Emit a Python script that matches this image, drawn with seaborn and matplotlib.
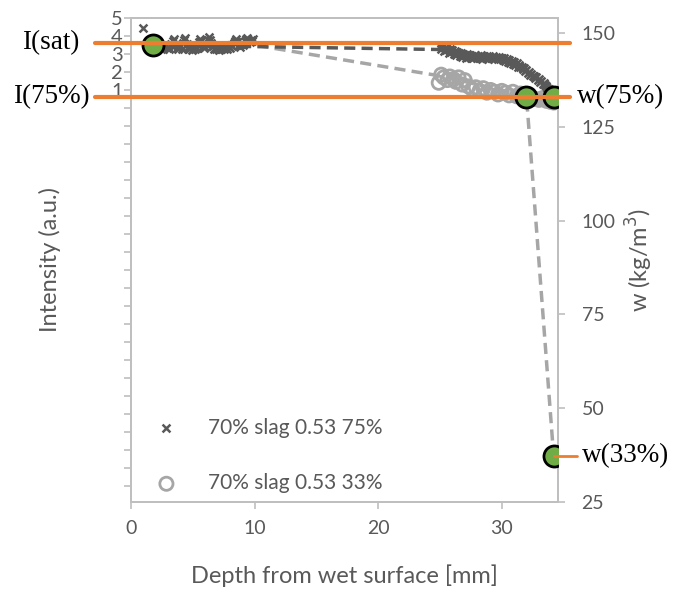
import matplotlib
matplotlib.use("Agg")
import matplotlib.pyplot as plt
import matplotlib.transforms as mtransforms
from matplotlib.ticker import FixedLocator, FuncFormatter
import seaborn as sns
import pandas as pd

sns.set_theme(style="white")
plt.rcParams["font.family"] = ["Lato", "DejaVu Sans"]

GRAY_TXT = "#595959"
DARK = "#595959"
LIGHT = "#a6a6a6"
ORANGE = "#ED7D31"
GREEN = "#70AD47"
SPINE = "#bfbfbf"

# --- measured intensity, 75% RH sample (left axis) ---
depth_75 = [1.0,
            2.0, 2.1, 2.2, 2.3, 2.4, 2.5, 2.6, 2.7, 2.8, 2.9,
            3.0, 3.1, 3.2, 3.3, 3.4, 3.5, 3.6, 3.7, 3.8, 3.9,
            4.0, 4.1, 4.2, 4.3, 4.4, 4.5, 4.6, 4.7, 4.8, 4.9,
            5.0, 5.1, 5.2, 5.3, 5.4, 5.5, 5.6, 5.7, 5.8, 5.9,
            6.0, 6.1, 6.2, 6.3, 6.4, 6.5, 6.6, 6.7, 6.8, 6.9,
            7.0, 7.1, 7.2, 7.3, 7.4, 7.5, 7.6, 7.7, 7.8, 7.9,
            8.0, 8.1, 8.2, 8.3, 8.4, 8.5, 8.6, 8.7, 8.8, 8.9,
            9.0, 9.1, 9.2, 9.3, 9.4, 9.5, 9.6, 9.7, 9.8, 9.9,
            25.0, 25.1, 25.2, 25.3, 25.4, 25.5, 25.6, 25.7, 25.8, 25.9,
            26.0, 26.1, 26.2, 26.3, 26.4, 26.5, 26.6, 26.7, 26.8, 26.9,
            27.0, 27.1, 27.2, 27.3, 27.4, 27.5, 27.6, 27.7, 27.8, 27.9,
            28.0, 28.1, 28.2, 28.3, 28.4, 28.5, 28.6, 28.7, 28.8, 28.9,
            29.0, 29.1, 29.2, 29.3, 29.4, 29.5, 29.6, 29.7, 29.8, 29.9,
            30.0, 30.1, 30.2, 30.3, 30.4, 30.5, 30.6, 30.7, 30.8, 30.9,
            31.0, 31.1, 31.2, 31.3, 31.4, 31.5, 31.6, 31.7, 31.8, 31.9,
            32.0, 32.1, 32.2, 32.3, 32.4, 32.5, 32.6, 32.7, 32.8, 32.9,
            33.0, 33.1, 33.2, 33.3, 33.4, 33.5, 33.6, 33.7, 33.8, 33.9,
            34.0, 34.1, 34.2]
intensity_75 = [4.45,
                3.55, 3.45, 3.35, 3.50, 3.30, 3.40, 3.25, 3.45, 3.50, 3.35,
                3.40, 3.30, 3.55, 3.45, 3.70, 3.85, 3.50, 3.35, 3.25, 3.40,
                3.45, 3.30, 3.60, 3.75, 3.90, 3.55, 3.40, 3.30, 3.35, 3.20,
                3.30, 3.45, 3.25, 3.35, 3.50, 3.65, 3.85, 3.70, 3.45, 3.35,
                3.40, 3.55, 3.75, 3.95, 3.80, 3.60, 3.45, 3.30, 3.35, 3.25,
                3.30, 3.20, 3.35, 3.25, 3.40, 3.30, 3.45, 3.35, 3.30, 3.40,
                3.35, 3.50, 3.45, 3.60, 3.70, 3.85, 3.65, 3.50, 3.40, 3.55,
                3.60, 3.50, 3.70, 3.85, 3.90, 3.75, 3.65, 3.80, 3.70, 3.85,
                3.45, 3.25, 3.40, 3.15, 3.35, 3.20, 3.30, 3.05, 3.25, 3.10,
                3.20, 3.00, 3.15, 2.95, 3.10, 3.05, 2.90, 3.05, 2.85, 3.00,
                2.95, 2.80, 3.00, 2.85, 2.95, 2.75, 2.90, 2.80, 2.95, 2.85,
                2.75, 2.90, 2.80, 2.95, 2.70, 2.85, 2.90, 2.75, 2.85, 2.70,
                2.90, 2.80, 2.75, 2.90, 2.70, 2.85, 2.80, 2.70, 2.85, 2.75,
                2.80, 2.65, 2.75, 2.60, 2.70, 2.55, 2.65, 2.50, 2.60, 2.45,
                2.55, 2.40, 2.50, 2.30, 2.40, 2.25, 2.30, 2.15, 2.20, 2.05,
                2.10, 1.95, 2.00, 1.85, 1.90, 1.75, 1.80, 1.65, 1.70, 1.55,
                1.60, 1.45, 1.50, 1.35, 1.40, 1.25, 1.20, 1.10, 1.05, 0.95,
                0.95, 0.85, 0.80]

# --- measured intensity, 33% RH sample (left axis) ---
depth_33 = [24.9, 25.1, 25.3, 25.6, 25.8, 26.1, 26.3, 26.5, 26.8, 27.0,
            27.3, 27.6, 27.9, 28.2, 28.5, 28.8, 29.1, 29.4, 29.7, 30.0,
            30.3, 30.6, 30.9, 31.2, 31.5, 31.8, 32.1, 32.4, 32.7, 33.0,
            33.3, 33.6, 33.9, 34.2]
intensity_33 = [1.40, 1.85, 1.70, 1.55, 1.75, 1.60, 1.45, 1.70, 1.30, 1.55,
                1.20, 1.05, 1.15, 0.95, 1.10, 0.85, 1.00, 0.90, 0.75, 0.95,
                0.85, 0.70, 0.90, 0.65, 0.80, 0.60, 0.70, 0.55, 0.50, 0.45,
                0.55, 0.40, 0.35, 0.30]

# --- moisture profiles (right axis) ---
profile_75_depth = [1.8, 25.0, 29.0, 31.0, 33.0, 34.2]
profile_75_w = [146.8, 145.6, 143.4, 142.3, 137.5, 133.0]
profile_33_depth = [1.8, 10.5, 25.5, 32.0, 34.2]
profile_33_w = [146.8, 146.5, 138.3, 133.0, 37.2]

# --- reference points (right axis) ---
ref_depth = [1.8, 32.0, 34.2, 34.2]
ref_w = [146.8, 133.0, 133.0, 37.2]

# --- calibration levels ---
i_sat = 3.6
i_75 = 0.6
w_33 = 37.2

legend_75 = "70% slag 0.53 75%"
legend_33 = "70% slag 0.53 33%"

df75 = pd.DataFrame({"depth": depth_75, "I": intensity_75})
df33 = pd.DataFrame({"depth": depth_33, "I": intensity_33})
p75 = pd.DataFrame({"depth": profile_75_depth, "w": profile_75_w})
p33 = pd.DataFrame({"depth": profile_33_depth, "w": profile_33_w})
refs = pd.DataFrame({"depth": ref_depth, "w": ref_w})

fig = plt.figure(figsize=(6.79, 5.92), dpi=100)
ax = fig.add_axes([131 / 679, 1 - 502 / 592, (558 - 131) / 679, (502 - 18) / 592])
ax2 = ax.twinx()
# intensity axis drawn over the moisture axis
ax.set_zorder(ax2.get_zorder() + 1)
ax.patch.set_visible(False)

ax.set_xlim(0, 34.55)
ax.set_ylim(-21.9, 5)
ax2.set_ylim(25, 154)

# moisture profiles (behind the measurements)
sns.lineplot(data=p33, x="depth", y="w", ax=ax2, color=LIGHT, linewidth=2.5,
             sort=False, zorder=2)
sns.lineplot(data=p75, x="depth", y="w", ax=ax2, color=DARK, linewidth=2.5,
             sort=False, zorder=2)
for ln in ax2.get_lines():
    ln.set_dashes([3.2, 1.8])

# intensity scatter
sns.scatterplot(data=df33, x="depth", y="I", ax=ax, marker="o", s=90,
                facecolor="none", edgecolor=LIGHT, linewidth=2.0,
                label=legend_33, zorder=2)
sns.scatterplot(data=df75, x="depth", y="I", ax=ax, marker="x", s=32,
                color=DARK, linewidth=1.8, label=legend_75, zorder=3)

# reference points, placed in moisture units
sns.scatterplot(data=refs, x="depth", y="w", ax=ax, s=230, color=GREEN,
                edgecolor="black", linewidth=2.0, zorder=5, legend=False,
                transform=ax2.transData)

ax.set_xlim(0, 34.55)
ax.set_ylim(-21.9, 5)
ax2.set_ylim(25, 154)

# calibration lines reaching past the frame
trans_i = mtransforms.blended_transform_factory(ax.transAxes, ax.transData)
for lvl in (i_sat, i_75):
    ax.plot([-0.084, 1.028], [lvl, lvl], color=ORANGE, linewidth=3.0,
            transform=trans_i, clip_on=False, zorder=6)
trans_w = mtransforms.blended_transform_factory(ax.transAxes, ax2.transData)
x_end = 34.2 / 34.55
ax.plot([x_end, 1.045], [w_33, w_33], color=ORANGE, linewidth=2.0,
        transform=trans_w, clip_on=False, zorder=7)

serif = dict(family=["Liberation Serif", "DejaVu Serif"], fontsize=19.5, color="black")
fig.text(22 / 679, 1 - 43 / 592, "I(sat)", ha="left", va="center", **serif)
fig.text(13 / 679, 1 - 97 / 592, "I(75%)", ha="left", va="center", **serif)
fig.text(577 / 679, 1 - 97 / 592, "w(75%)", ha="left", va="center", **serif)
fig.text(582 / 679, 1 - 456 / 592, "w(33%)", ha="left", va="center", **serif)

# ticks
ax.set_xticks([0, 10, 20, 30])
ax.yaxis.set_major_locator(FixedLocator(list(range(-21, 6))))
ax.yaxis.set_major_formatter(FuncFormatter(lambda v, p: f"{int(v)}" if v >= 1 else ""))
ax2.set_yticks([25, 50, 75, 100, 125, 150])

for a in (ax, ax2):
    for sp in a.spines.values():
        sp.set_color(SPINE)
        sp.set_linewidth(1.3)
    a.tick_params(colors=SPINE, labelcolor=GRAY_TXT, labelsize=14,
                  length=5, width=1.2, direction="out")
ax.tick_params(axis="y", left=True, right=False, pad=1, labelsize=14.5)
ax.tick_params(axis="x", bottom=True, pad=8)
ax2.tick_params(axis="y", right=True, left=False, pad=12)

ax.set_xlabel("Depth from wet surface [mm]", fontsize=17, color=GRAY_TXT, labelpad=20)
ax.set_ylabel("Intensity (a.u.)", fontsize=17, color=GRAY_TXT, labelpad=36)
ax2.set_ylabel("w (kg/m$^3$)", fontsize=17, color=GRAY_TXT, labelpad=6)

handles, labels = ax.get_legend_handles_labels()
order = [labels.index(legend_75), labels.index(legend_33)]
leg = ax.legend([handles[i] for i in order], [labels[i] for i in order],
                loc="lower left", bbox_to_anchor=(0.0, -0.012), frameon=False,
                fontsize=15, labelspacing=1.7, handletextpad=1.0,
                borderaxespad=0.3)
for t in leg.get_texts():
    t.set_color(GRAY_TXT)

fig.savefig("out.png", dpi=100)
